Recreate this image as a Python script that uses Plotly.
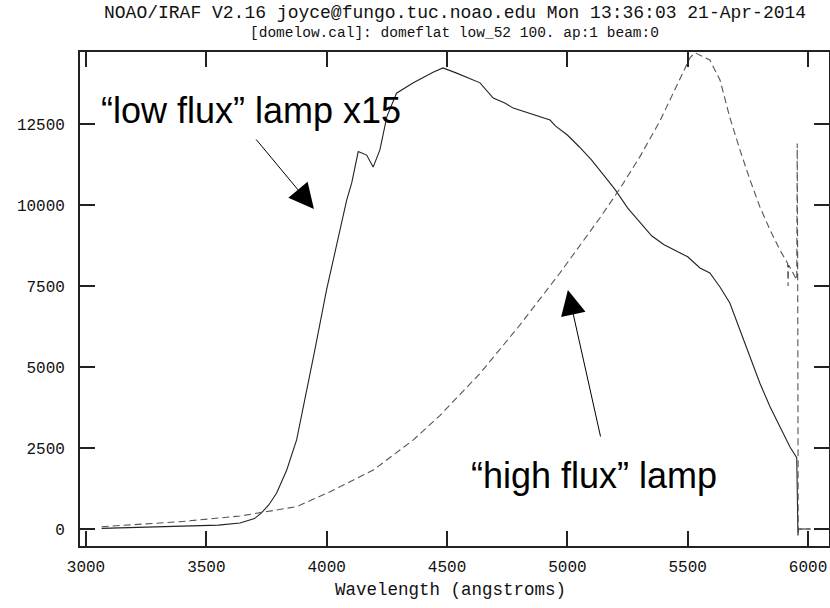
import plotly.graph_objects as go

# "low flux" lamp x15 (solid)
low_wave = [3065, 3200, 3400, 3550, 3640, 3700, 3730, 3760, 3792, 3834, 3875, 3900,
            3950, 4000, 4047, 4083, 4104, 4131, 4166, 4193, 4221, 4250, 4290, 4360,
            4442, 4483, 4540, 4600, 4637, 4692, 4740, 4775, 4857, 4928, 4950, 5000,
            5050, 5100, 5150, 5200, 5250, 5300, 5350, 5400, 5450, 5500, 5551, 5592,
            5634, 5675, 5717, 5759, 5800, 5842, 5883, 5925, 5953, 5958, 5960, 6010]
low_flux = [20, 50, 90, 120, 185, 320, 505, 750, 1110, 1820, 2750, 3650,
            5500, 7400, 8920, 10150, 10680, 11650, 11540, 11170, 11700, 12730, 13450, 13770,
            14100, 14230, 14070, 13880, 13770, 13300, 13150, 12990, 12780, 12620, 12440, 12160,
            11790, 11390, 10930, 10460, 9910, 9480, 9050, 8780, 8600, 8400, 8055, 7900,
            7470, 6975, 6140, 5310, 4500, 3770, 3150, 2530, 2200, -200, 0, 0]

# "high flux" lamp (dashed)
high_wave = [3065, 3200, 3390, 3640, 3730, 3875, 4014, 4194, 4360, 4470, 4637, 4803,
             4969, 5135, 5218, 5302, 5385, 5468, 5510, 5530, 5551, 5592, 5634, 5675,
             5717, 5759, 5800, 5842, 5883, 5915, 5917, 5919, 5953, 5955, 5957, 5959, 6010]
high_flux = [70, 140, 225, 400, 505, 690, 1150, 1820, 2750, 3500, 4800, 6300,
             7900, 9600, 10500, 11500, 12600, 13900, 14550, 14700, 14620, 14475, 13860, 12700,
             11700, 10770, 9940, 9230, 8610, 8200, 7500, 8150, 7690, 11900, 7600, 0, 0]

x_ticks = [3000, 3500, 4000, 4500, 5000, 5500, 6000]
y_ticks = [0, 2500, 5000, 7500, 10000, 12500]

title_lines = ["NOAO/IRAF V2.16 joyce@fungo.tuc.noao.edu Mon 13:36:03 21-Apr-2014",
               "[domelow.cal]: domeflat low_52 100. ap:1 beam:0"]
x_title = "Wavelength (angstroms)"

mono = "Liberation Mono"
ink = "#111111"

fig = go.Figure()
fig.add_trace(go.Scatter(x=low_wave, y=low_flux, mode="lines",
                         line=dict(color="#222222", width=1.1)))
fig.add_trace(go.Scatter(x=high_wave, y=high_flux, mode="lines",
                         line=dict(color="#555555", width=1.1, dash="7px,4px")))

axis_style = dict(showline=True, linewidth=1.8, linecolor="#222222", mirror="ticks",
                  ticks="inside", ticklen=15, tickwidth=1.5, tickcolor="#222222",
                  showgrid=False, zeroline=False, automargin=False,
                  tickfont=dict(family=mono, size=16, color=ink))

fig.update_xaxes(range=[2975, 6087], tickvals=x_ticks,
                 ticktext=[str(v) for v in x_ticks], ticklabelstandoff=5,
                 **axis_style)
fig.update_yaxes(range=[-525, 14722], tickvals=y_ticks,
                 ticktext=[str(v) for v in y_ticks], ticklabelstandoff=10,
                 **axis_style)

fig.update_layout(
    width=830, height=608,
    margin=dict(l=80, r=1, t=52, b=62),
    plot_bgcolor="white", paper_bgcolor="white",
    showlegend=False,
)

# title lines and axis title
fig.add_annotation(xref="paper", yref="paper", x=0.5, y=1, yshift=39,
                   text=title_lines[0], showarrow=False, yanchor="middle",
                   font=dict(family=mono, size=18, color=ink))
fig.add_annotation(xref="paper", yref="paper", x=0.5, y=1, yshift=19,
                   text=title_lines[1], showarrow=False, yanchor="middle",
                   font=dict(family=mono, size=14.5, color=ink))
fig.add_annotation(xref="paper", yref="paper", x=0.495, y=0, yshift=-44,
                   text=x_title, showarrow=False, yanchor="middle",
                   font=dict(family=mono, size=17.5, color=ink))

# labels
fig.add_annotation(x=3052, y=12932, text="“low flux” lamp x15", showarrow=False,
                   xanchor="left", yanchor="middle",
                   font=dict(family="Liberation Sans", size=36, color="black"))
fig.add_annotation(x=4590, y=1636, text="“high flux” lamp", showarrow=False,
                   xanchor="left", yanchor="middle",
                   font=dict(family="Liberation Sans", size=36, color="black"))

# arrows
fig.add_annotation(x=3947, y=9877, ax=-59, ay=-71, text="", showarrow=True,
                   arrowhead=2, arrowsize=5, arrowwidth=1, arrowcolor="black")
fig.add_annotation(x=5002, y=7377, ax=33, ay=148, text="", showarrow=True,
                   arrowhead=2, arrowsize=5, arrowwidth=1, arrowcolor="black")

# drop the default page margin so the figure fills the window exactly
fig.write_html("out.html",
               config={"displayModeBar": False},
               post_script="document.body.style.margin='0';"
                           "document.body.style.overflow='hidden';")
